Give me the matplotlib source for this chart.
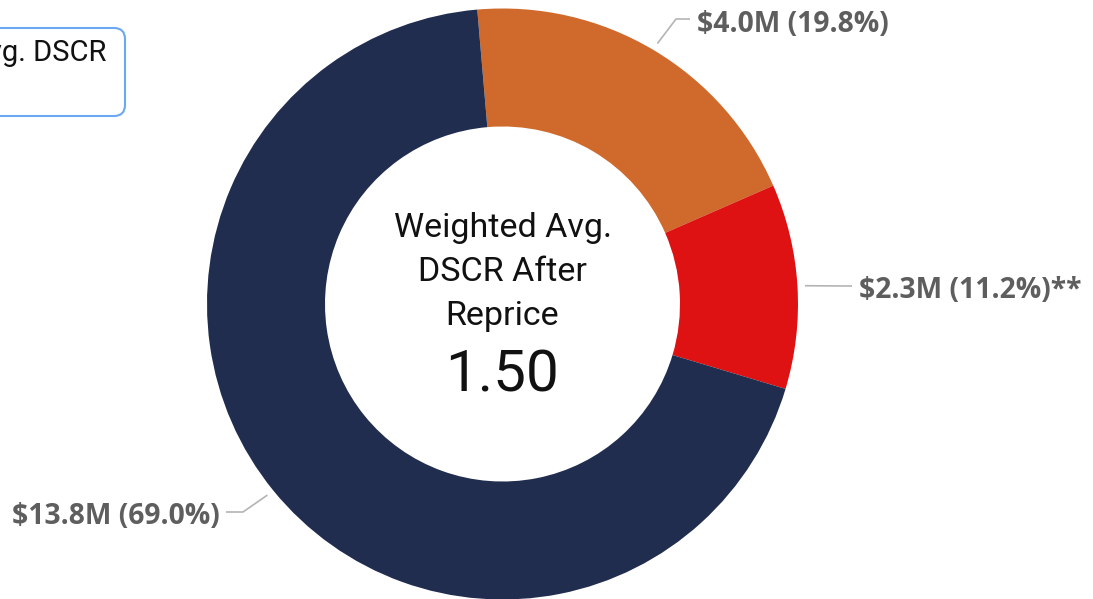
import numpy as np
import matplotlib
matplotlib.use('Agg')
import matplotlib.pyplot as plt
from matplotlib.patches import FancyBboxPatch

# data
amounts_m = [4.0, 2.3, 13.8]
shares_pct = [19.8, 11.2, 69.0]
label_suffix = ['', '**', '']
colors = ['#D06A2C', '#DE1212', '#212D4F']
center_title = ['Weighted Avg.', 'DSCR After', 'Reprice']
center_value = 1.50
card_text = 'Weighted Avg. DSCR'

W, H = 1093, 599


def py(y):
    # pixel row (top-down) -> data y
    return H - y


fig = plt.figure(figsize=(W / 100, H / 100), dpi=100)
ax = fig.add_axes([0, 0, 1, 1])

cx, cy = 502.5, py(304)
R_out, ring = 295.5, 118
wedges, _ = ax.pie(shares_pct, colors=colors, startangle=94.9, counterclock=False,
                   center=(cx, cy), radius=R_out,
                   wedgeprops=dict(width=ring, edgecolor='none', linewidth=0))
ax.set_xlim(0, W)
ax.set_ylim(0, H)
ax.axis('off')

# data labels with leader lines
labels = [f'${a:.1f}M ({p:.1f}%){s}' for a, p, s in zip(amounts_m, shares_pct, label_suffix)]
# (elbow x, elbow y, end x, text x, baseline y, ha)
label_layout = [
    (676, 19, 690, 697, 32, 'left'),
    (845, 286, 852, 859, 298, 'left'),
    (243, 512, 226, 220, 524, 'right'),
]
for w, txt, (ex, ey, tx_end, tx, by, ha) in zip(wedges, labels, label_layout):
    mid = np.deg2rad((w.theta1 + w.theta2) / 2)
    sx = cx + 303 * np.cos(mid)
    sy = cy + 303 * np.sin(mid)
    ax.plot([sx, ex, tx_end], [sy, py(ey), py(ey)], color='#B4B4B4', lw=1.2,
            solid_capstyle='butt')
    ax.text(tx, py(by), txt, ha=ha, va='baseline', fontsize=20.3,
            fontweight='bold', family='Open Sans', color='#5E5E5E')

# center text
for line, by in zip(center_title, [237, 281, 325]):
    ax.text(cx, py(by), line, ha='center', va='baseline', fontsize=24.5,
            family='Roboto', color='#111111')
ax.text(cx, py(392), f'{center_value:.2f}', ha='center', va='baseline',
        fontsize=42, family='Roboto', color='#111111')

# card in the top-left corner (cut off by the canvas edge, as in the source)
card = FancyBboxPatch((-40, py(116)), 165, 88,
                      boxstyle='round,pad=0,rounding_size=11',
                      fc='white', ec='#6AA8F2', lw=1.5)
ax.add_patch(card)
ax.text(106, py(61), card_text, ha='right', va='baseline', fontsize=21,
        family='Roboto', color='#111111')

fig.savefig('out.png', dpi=100)
